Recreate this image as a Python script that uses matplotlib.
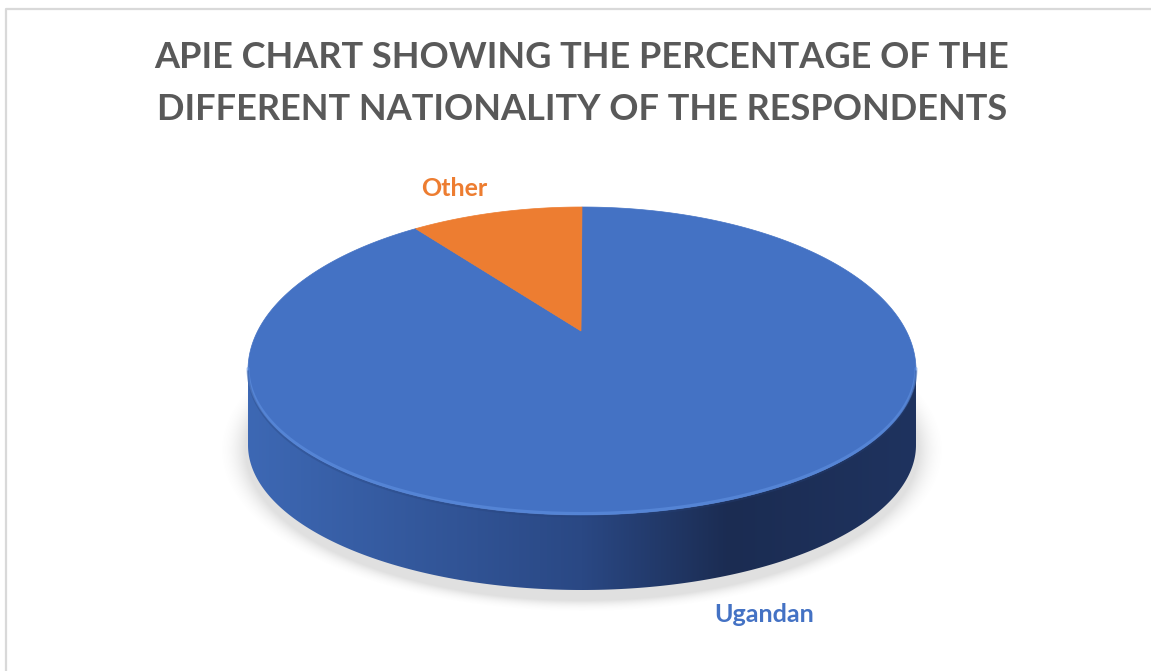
import numpy as np
import matplotlib
matplotlib.use("Agg")
import matplotlib.pyplot as plt
from matplotlib.patches import Polygon
from matplotlib.lines import Line2D

# ---- data ----
categories = ["Ugandan", "Other"]
values = [91.7, 8.3]
colors = ["#4472C4", "#ED7D31"]
title_lines = ["APIE CHART SHOWING THE PERCENTAGE OF THE",
               "DIFFERENT NATIONALITY OF THE RESPONDENTS"]

W, H = 1151, 671
fig = plt.figure(figsize=(W / 100, H / 100), dpi=100)
ax = fig.add_axes([0, 0, 1, 1])
ax.set_xlim(0, W)
ax.set_ylim(H, 0)
ax.axis("off")

# geometry of 3D pie (pixel space)
cx, cy = 582, 370
a, bt, bb = 334, 163, 145
depth = 75
apex = (581, 331)


def ell(t, dy=0.0):
    t = np.asarray(t)
    x = cx + a * np.cos(t)
    s = np.sin(t)
    y = cy - np.where(s >= 0, bt, bb) * s + dy
    return x, y


# border
ax.add_line(Line2D([6.5, 6.5, W], [H, 8.5, 8.5], color="#d9d9d9", lw=1.6, zorder=1))

# shadow
xs = np.arange(200, 965)
ys = np.arange(330, 640)
X, Y = np.meshgrid(xs, ys)
r = np.sqrt(((X - cx) / (a + 3)) ** 2 + ((Y - (cy + depth + 5)) / (bb + 6)) ** 2)
alpha = 0.24 * np.clip((1.08 - r) / 0.08, 0, 1) ** 2
rgba = np.zeros(X.shape + (4,))
rgba[..., :3] = 0.5
rgba[..., 3] = alpha
ax.imshow(rgba, extent=(xs[0], xs[-1], ys[-1], ys[0]), zorder=2, interpolation="bilinear")

# side wall (front half) with horizontal gradient
t = np.linspace(np.pi, 2 * np.pi, 300)
xt, yt = ell(t)
xb, yb = ell(t, depth)
side_pts = np.column_stack([np.concatenate([xt, xb[::-1]]), np.concatenate([yt, yb[::-1]])])
side = Polygon(side_pts, closed=True, facecolor="none", edgecolor="none", zorder=3)
ax.add_patch(side)
grad_x = np.linspace(0, 1, 600)
c_left = np.array([0x3d, 0x68, 0xb4]) / 255
c_mid = np.array([0x2a, 0x48, 0x84]) / 255
c_right = np.array([0x1b, 0x2c, 0x52]) / 255
c_end = np.array([0x1f, 0x33, 0x5f]) / 255
g = np.zeros((1, 600, 3))
for i, v in enumerate(grad_x):
    if v < 0.5:
        g[0, i] = c_left + (c_mid - c_left) * (v / 0.5)
    elif v < 0.72:
        g[0, i] = c_mid + (c_right - c_mid) * ((v - 0.5) / 0.22)
    else:
        g[0, i] = c_right + (c_end - c_right) * ((v - 0.72) / 0.28)
im = ax.imshow(g, extent=(cx - a, cx + a, cy + bb + depth + 5, cy - 5), aspect="auto",
               zorder=3, interpolation="bilinear")
im.set_clip_path(side)

# top face slices (clockwise from 12 o'clock)
total = sum(values)
start = 90.0
for val, col in zip(values, colors):
    sweep = val / total * 360.0
    th = np.radians(np.linspace(start, start - sweep, 400))
    x, y = ell(th)
    pts = np.vstack([[apex], np.column_stack([x, y])])
    ax.add_patch(Polygon(pts, closed=True, facecolor=col, edgecolor=col, lw=0.5, zorder=4))
    start -= sweep

# rim highlight on front edge of top face
th = np.linspace(np.pi * 1.0, np.pi * 2.0, 300)
x, y = ell(th)
ax.plot(x, y - 1.5, color="#6596e6", lw=2.2, alpha=0.5, zorder=5, solid_capstyle="round")
ax.plot(x, y + 1.5, color="#26427a", lw=1.5, alpha=0.3, zorder=5)

# title
tfont = dict(family="Lato", weight="bold", color="#595959", size=26)
ax.text(582, 57, title_lines[0], ha="center", va="center", zorder=6, **tfont)
ax.text(582, 110, title_lines[1], ha="center", va="center", zorder=6, **tfont)

# data labels
lfont = dict(family="Lato", weight="bold", size=18)
ax.text(454, 188, categories[1], ha="center", va="center", color=colors[1], zorder=6, **lfont)
ax.text(764, 614, categories[0], ha="center", va="center", color=colors[0], zorder=6, **lfont)

fig.savefig("out.png", dpi=100, facecolor="white")
